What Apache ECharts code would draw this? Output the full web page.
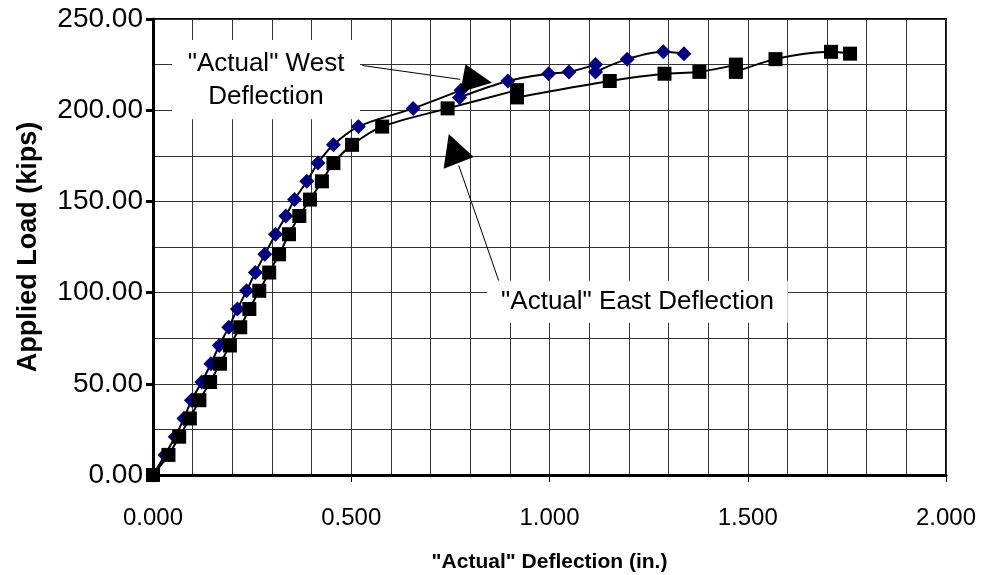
<!DOCTYPE html>
<html><head><meta charset="utf-8">
<script src="https://cdn.jsdelivr.net/npm/echarts@6/dist/echarts.min.js"></script>
<style>html,body{margin:0;padding:0;background:#fff}#c{width:984px;height:575px}</style>
</head><body><div id="c"></div>
<script>
const loads = [0,11,21,31,41,51,61,71,81,91,101,111,121,132,142,151,161,171,181,191,201,211,207,216,220,221,225,221,228,232,231];
const westDefl = [0,0.030,0.056,0.078,0.097,0.123,0.146,0.167,0.191,0.213,0.236,0.258,0.282,0.309,0.335,0.357,0.388,0.416,0.455,0.518,0.656,0.777,0.773,0.895,0.998,1.049,1.116,1.116,1.196,1.287,1.339];
const eastDefl = [0,0.039,0.066,0.093,0.117,0.144,0.169,0.194,0.220,0.243,0.268,0.293,0.318,0.343,0.369,0.396,0.426,0.455,0.502,0.578,0.743,0.918,0.918,1.152,1.290,1.378,1.470,1.470,1.570,1.710,1.758];
const xTitle = '"Actual" Deflection (in.)';
const yTitle = 'Applied Load (kips)';
const westLabel = '"Actual" West\nDeflection';
const eastLabel = '"Actual" East Deflection';

const F = 'Liberation Sans, Arial, sans-serif';
const chart = echarts.init(document.getElementById('c'), null, {renderer:'canvas'});
const westData = westDefl.map((d,i)=>[d, loads[i]]);
const eastData = eastDefl.map((d,i)=>[d, loads[i]]);

chart.setOption({
  animation:false,
  backgroundColor:'#fff',
  grid:{left:153,right:38,top:19,bottom:100,outerBoundsMode:'none',containLabel:false,show:true,borderColor:'#000',borderWidth:2,backgroundColor:'transparent'},
  xAxis:{type:'value',min:0,max:2,interval:0.5,
    name:xTitle,nameLocation:'middle',nameGap:77,
    nameTextStyle:{fontFamily:F,fontWeight:'bold',fontSize:21,color:'#000'},
    axisLine:{show:true,onZero:false,lineStyle:{color:'#000',width:3}},
    axisTick:{show:true,length:7,lineStyle:{color:'#000',width:1}},
    minorTick:{show:false,splitNumber:5},
    splitLine:{show:true,lineStyle:{color:'#333',width:1}},
    minorSplitLine:{show:true,lineStyle:{color:'#333',width:1}},
    axisLabel:{fontFamily:F,fontSize:24,color:'#000',margin:31,formatter:v=>v.toFixed(3)}
  },
  yAxis:{type:'value',min:0,max:250,interval:50,
    name:yTitle,nameLocation:'middle',nameGap:111,
    nameTextStyle:{fontFamily:F,fontWeight:'bold',fontSize:27,color:'#000'},
    axisLine:{show:true,onZero:false,lineStyle:{color:'#000',width:3}},
    axisTick:{show:true,length:7,lineStyle:{color:'#000',width:3}},
    minorTick:{show:false,splitNumber:2},
    splitLine:{show:true,lineStyle:{color:'#333',width:1}},
    minorSplitLine:{show:true,lineStyle:{color:'#333',width:1}},
    axisLabel:{fontFamily:F,fontSize:28,color:'#000',margin:10,formatter:v=>v.toFixed(2)}
  },
  series:[
    {name:'West',type:'line',data:westData,smooth:0.3,symbol:'diamond',symbolSize:15,
     lineStyle:{color:'#000',width:2},itemStyle:{color:'#000080'},z:3},
    {name:'East',type:'line',data:eastData,smooth:0.3,symbol:'rect',symbolSize:14,
     lineStyle:{color:'#000',width:2},itemStyle:{color:'#000'},z:4}
  ]
});

// annotations anchored in data coordinates
const westBox = [[0.048,238.5],[0.522,195]];
const westTextAt = [0.285,216.5];
const westLeader = [[0.528,224.5],[0.775,216.9]];
const westArrow = [[0.788,225.2],[0.855,215.0],[0.775,209.8]];
const eastBox = [[0.843,106.5],[1.601,83.5]];
const eastTextAt = [1.222,95];
const eastLeader = [[0.872,106.5],[0.771,169.8]];
const eastArrow = [[0.746,187.0],[0.809,174.3],[0.733,167.9]];

const px = p => chart.convertToPixel({gridIndex:0}, p);
function box(b){const a=px(b[0]), c=px(b[1]);return {type:'rect',shape:{x:a[0],y:a[1],width:c[0]-a[0],height:c[1]-a[1]},style:{fill:'#fff'},z:10};}
function txt(t,p){const q=px(p);return {type:'text',x:q[0],y:q[1],style:{text:t,font:'26px '+F,fill:'#000',align:'center',verticalAlign:'middle',lineHeight:33},z:11};}
function seg(s){const a=px(s[0]),b=px(s[1]);return {type:'line',shape:{x1:a[0],y1:a[1],x2:b[0],y2:b[1]},style:{stroke:'#000',lineWidth:1},z:12};}
function tri(t){return {type:'polygon',shape:{points:t.map(px)},style:{fill:'#000'},z:12};}
chart.setOption({graphic:[box(westBox),txt(westLabel,westTextAt),seg(westLeader),tri(westArrow),
  box(eastBox),txt(eastLabel,eastTextAt),seg(eastLeader),tri(eastArrow)]});
</script></body></html>
